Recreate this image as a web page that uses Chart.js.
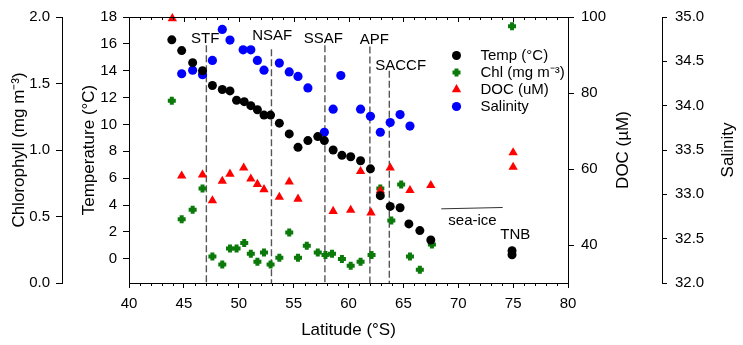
<!DOCTYPE html>
<html>
<head>
<meta charset="utf-8">
<script src="https://cdn.jsdelivr.net/npm/chart.js@4.4.1/dist/chart.umd.min.js"></script>
<style>
  html, body { margin: 0; padding: 0; background: #fff; }
  #wrap { width: 743px; height: 345px; }
</style>
</head>
<body>
<div id="wrap"><canvas id="chart"></canvas></div>
<script>
// Temperature (oC)
const tempLat = [43.9, 44.8, 45.8, 46.7, 47.6, 48.5, 49.2, 49.8, 50.5, 51.1, 51.7, 52.3, 52.9, 53.7, 54.6, 55.4,
                 56.3, 57.2, 57.8, 58.6, 59.4, 60.2, 61.1, 62.0, 62.9, 63.8, 64.7, 65.5, 66.5, 67.5, 74.9, 74.9];
const tempVal = [16.3, 15.5, 14.6, 14.0, 12.9, 12.6, 12.5, 11.8, 11.7, 11.4, 11.1, 10.7, 10.7, 10.1, 9.3, 8.3,
                 8.8, 9.1, 8.8, 8.1, 7.7, 7.6, 7.3, 6.7, 4.7, 3.9, 3.8, 2.6, 2.1, 1.4, 0.6, 0.3];

// Chlorophyll (mg m-3)
const chlLat = [43.9, 44.8, 45.8, 46.7, 47.6, 48.5, 49.2, 49.8, 50.5, 51.1, 51.7, 52.3, 52.9, 53.7, 54.6, 55.4,
                56.2, 57.2, 57.9, 58.5, 59.4, 60.2, 61.1, 62.1, 62.9, 63.9, 64.8, 65.6, 66.5, 67.6, 74.9];
const chlVal = [1.37, 0.48, 0.55, 0.71, 0.20, 0.14, 0.26, 0.26, 0.30, 0.22, 0.16, 0.23, 0.14, 0.19, 0.38, 0.19,
                0.28, 0.23, 0.21, 0.22, 0.18, 0.13, 0.16, 0.21, 0.71, 0.47, 0.74, 0.20, 0.10, 0.29, 1.93];

// DOC (uM)
const docLat = [43.95, 44.8, 46.7, 47.6, 48.5, 49.2, 50.45, 51.1, 51.7, 52.3, 53.7, 54.6, 55.4,
                58.6, 60.2, 61.1, 62.05, 62.9, 63.8, 65.6, 67.5, 75.0, 75.0];
const docVal = [99.6, 58.2, 58.5, 51.7, 56.8, 58.7, 60.3, 57.4, 56.0, 54.6, 52.6, 56.6, 52.1,
                48.9, 49.2, 59.4, 48.5, 54.3, 60.3, 54.4, 55.7, 64.3, 60.5];

// Salinity
const salLat = [44.8, 45.8, 46.7, 47.6, 48.5, 49.2, 50.4, 51.1, 51.7, 52.3, 53.7, 54.6, 55.4, 56.3,
                57.8, 58.6, 59.3, 61.1, 62.0, 62.9, 63.8, 64.7, 65.6];
const salVal = [34.36, 34.40, 34.35, 34.51, 34.86, 34.74, 34.63, 34.63, 34.51, 34.40, 34.48, 34.38, 34.33, 34.20,
                33.70, 33.96, 34.34, 33.96, 33.88, 33.70, 33.81, 33.90, 33.77];

// fronts (latitude, top of the dashed line in temperature units)
const frontNames = ["STF", "NSAF", "SSAF", "APF", "SACCF"];
const frontLat = [47.05, 52.98, 57.85, 61.95, 63.72];
const frontTop = [15.9, 15.6, 15.9, 15.8, 14.0];

// tick labels
const tempTicks = [0, 2, 4, 6, 8, 10, 12, 14, 16, 18];
const docTicks = [40, 60, 80, 100];

const toPts = (xs, ys) => xs.map((v, i) => ({ x: v, y: ys[i] }));

Chart.defaults.font.family = '"Liberation Sans", Arial, sans-serif';
Chart.defaults.font.size = 15;
Chart.defaults.color = "#000";

const FONT = '"Liberation Sans", Arial, sans-serif';

// labels for the fronts, sea-ice and TNB (lat, temp)
const notes = [
  ["STF", 46.95, 16.4], ["NSAF", 53.05, 16.6], ["SSAF", 57.7, 16.4],
  ["APF", 62.35, 16.3], ["SACCF", 64.75, 14.4],
  ["sea-ice", 71.3, 2.85], ["TNB", 75.2, 1.8]
];
const legendItems = ["Temp (\u00B0C)", "Chl (mg m\u207B\u00B3)", "DOC (uM)", "Salinity"];

const decor = {
  id: "decor",
  beforeDatasetsDraw(chart) {
    const { ctx, chartArea, scales } = chart;
    ctx.save();
    ctx.strokeStyle = "#555";
    ctx.lineWidth = 1.4;
    ctx.setLineDash([7, 3]);
    frontLat.forEach((lat, i) => {
      const px = scales.x.getPixelForValue(lat);
      ctx.beginPath();
      ctx.moveTo(px, scales.yTemp.getPixelForValue(frontTop[i]));
      ctx.lineTo(px, chartArea.bottom);
      ctx.stroke();
    });
    ctx.restore();
  },
  afterDraw(chart) {
    const { ctx, chartArea: ca, scales } = chart;
    const x = scales.x, yT = scales.yTemp;
    ctx.save();

    // top frame + minor ticks
    ctx.strokeStyle = "#000";
    ctx.lineWidth = 1;
    ctx.beginPath();
    ctx.moveTo(ca.left, Math.round(ca.top) + 0.5);
    ctx.lineTo(ca.right, Math.round(ca.top) + 0.5);
    for (let v = 41; v < 80; v++) {
      const px = Math.round(x.getPixelForValue(v)) + 0.5;
      const major = v % 5 === 0;
      ctx.moveTo(px, ca.top);
      ctx.lineTo(px, ca.top + (major ? 5 : 3));
      if (!major) {
        ctx.moveTo(px, ca.bottom);
        ctx.lineTo(px, ca.bottom + 3);
      }
    }
    ctx.stroke();

    // sea-ice line
    ctx.strokeStyle = "#333";
    ctx.beginPath();
    ctx.moveTo(x.getPixelForValue(68.45), yT.getPixelForValue(3.72));
    ctx.lineTo(x.getPixelForValue(74.05), yT.getPixelForValue(3.82));
    ctx.stroke();

    // notes
    ctx.fillStyle = "#000";
    ctx.font = "15px " + FONT;
    ctx.textAlign = "center";
    ctx.textBaseline = "middle";
    notes.forEach(n => ctx.fillText(n[0], x.getPixelForValue(n[1]), yT.getPixelForValue(n[2])));

    // legend
    ctx.textAlign = "left";
    chart.data.datasets.forEach((ds, i) => {
      const mx = ca.left + 327.5, my = ca.top + 38.5 + i * 17;
      ctx.fillStyle = ds.pointBackgroundColor;
      ctx.strokeStyle = ds.pointBorderColor;
      ctx.lineWidth = ds.pointBorderWidth;
      Chart.helpers.drawPoint(ctx, {
        pointStyle: ds.pointStyle, radius: ds.pointRadius, borderWidth: ds.pointBorderWidth, rotation: 0
      }, mx, my);
      ctx.fillStyle = "#000";
      ctx.fillText(legendItems[i], ca.left + 351.5, my);
    });

    // right axis titles, reading upwards
    ctx.font = "17px " + FONT;
    ctx.textAlign = "center";
    const midY = (ca.top + ca.bottom) / 2;
    [[scales.yDoc.left + 55, "DOC (\u00B5M)"], [scales.ySal.left + 66, "Salinity"]].forEach(t => {
      ctx.save();
      ctx.translate(t[0], midY);
      ctx.rotate(-Math.PI / 2);
      ctx.fillText(t[1], 0, 0);
      ctx.restore();
    });
    ctx.restore();
  }
};

const axisBase = {
  grid: { drawOnChartArea: false, tickLength: 6, color: "#000", tickColor: "#000" },
  border: { color: "#000", width: 1 }
};

new Chart(document.getElementById("chart"), {
  type: "scatter",
  data: {
    datasets: [
      {
        label: "Temp", data: toPts(tempLat, tempVal), yAxisID: "yTemp", order: 0,
        pointStyle: "circle", pointRadius: 4.5, pointBorderWidth: 0,
        pointBackgroundColor: "#000", pointBorderColor: "#000"
      },
      {
        label: "Chl", data: toPts(chlLat, chlVal), yAxisID: "yChl", order: 2,
        pointStyle: "cross", pointRadius: 4, pointBorderWidth: 4,
        pointBackgroundColor: "#0b7a0b", pointBorderColor: "#0b7a0b"
      },
      {
        label: "DOC", data: toPts(docLat, docVal), yAxisID: "yDoc", order: 1,
        pointStyle: "triangle", pointRadius: 5.4, pointBorderWidth: 0,
        pointBackgroundColor: "#ff0000", pointBorderColor: "#ff0000"
      },
      {
        label: "Salinity", data: toPts(salLat, salVal), yAxisID: "ySal", order: 3,
        pointStyle: "circle", pointRadius: 4.6, pointBorderWidth: 0,
        pointBackgroundColor: "#0000ff", pointBorderColor: "#0000ff"
      }
    ].map(d => Object.assign(d, { clip: false, pointHoverRadius: d.pointRadius }))
  },
  options: {
    responsive: true,
    maintainAspectRatio: false,
    animation: false,
    devicePixelRatio: 1,
    layout: { padding: { top: 10, left: 0, right: 0, bottom: 0 } },
    plugins: { legend: { display: false }, tooltip: { enabled: false } },
    scales: {
      x: {
        ...axisBase,
        type: "linear", position: "bottom", min: 40, max: 80,
        grid: { ...axisBase.grid, tickLength: 5 },
        ticks: { stepSize: 5, padding: 7, maxRotation: 0 },
        title: { display: true, text: "Latitude (\u00B0S)", font: { size: 17 }, padding: { top: 0, bottom: 4 } },
        afterFit: s => { s.height = 62; }
      },
      yChl: {
        ...axisBase,
        type: "linear", position: "left", weight: 1, min: 0, max: 2,
        ticks: { stepSize: 0.5, padding: 6, callback: v => v.toFixed(1) },
        title: { display: true, text: "Chlorophyll (mg m\u207B\u00B3)", font: { size: 17 }, padding: { top: 9, bottom: 0 } },
        afterFit: s => { s.width = 62; }
      },
      yTemp: {
        ...axisBase,
        type: "linear", position: "left", weight: 0, min: -1.8, max: 18,
        ticks: { padding: 6 },
        afterBuildTicks: s => { s.ticks = tempTicks.map(v => ({ value: v })); },
        title: { display: true, text: "Temperature (\u00B0C)", font: { size: 17 }, padding: { top: 17, bottom: 0 } },
        afterFit: s => { s.width = 67; }
      },
      yDoc: {
        ...axisBase,
        type: "linear", position: "right", weight: 0, min: 30, max: 100,
        ticks: { padding: 7 },
        afterBuildTicks: s => { s.ticks = docTicks.map(v => ({ value: v })); },
        afterFit: s => { s.width = 94; }
      },
      ySal: {
        ...axisBase,
        type: "linear", position: "right", weight: 1, min: 32, max: 35,
        grid: { ...axisBase.grid, tickLength: 5 },
        ticks: { stepSize: 0.5, padding: 8, callback: v => v.toFixed(1) },
        afterFit: s => { s.width = 81; }
      }
    }
  },
  plugins: [decor]
});
</script>
</body>
</html>
